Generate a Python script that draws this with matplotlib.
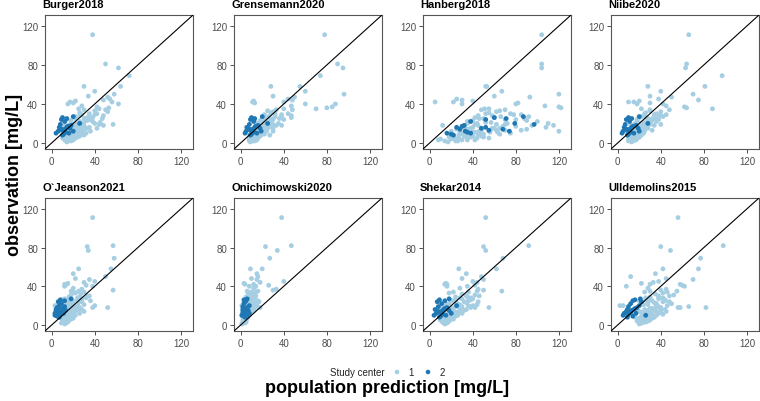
import matplotlib
matplotlib.use("Agg")
import matplotlib.pyplot as plt
import numpy as np

plt.rcParams['font.family'] = ['Liberation Sans', 'DejaVu Sans']

models = ["Burger2018", "Grensemann2020", "Hanberg2018", "Niibe2020",
          "O`Jeanson2021", "Onichimowski2020", "Shekar2014", "Ulldemolins2015"]

# observed concentrations, study center 1
obs_c1 = [111, 81, 77, 69, 58, 58, 53, 50, 48, 47, 45, 44, 43, 42, 42, 41, 40, 40, 38, 37,
          36, 35, 35, 34, 33, 32, 30, 29, 28, 27, 26, 25, 25, 24, 23, 22, 21, 20, 20, 19,
          18, 18, 18, 17, 16, 16, 15, 15, 14, 14, 13, 13, 12, 12, 11, 11, 10, 10, 9, 9,
          8, 8, 7, 7, 6, 6, 5, 5, 4, 4, 3, 3, 2, 1, 20, 12, 30, 26, 15, 8, 82,
          34, 31, 29, 27, 25, 23, 22, 21, 19, 18, 17, 16, 15, 14, 13, 12, 11, 10, 9, 8,
          7, 6, 5, 4, 3, 2, 24, 20, 17, 13, 10, 6, 28, 19, 15, 11, 9, 5, 3, 2]
# observed concentrations, study center 2
obs_c2 = [27, 26, 25, 24, 22, 20, 19, 18, 17, 16, 15, 14, 13, 12, 12, 11, 10, 10, 9, 8, 14, 16]

# population predictions per model, study center 1
pred_c1 = {
    "Burger2018": [38, 50, 62, 72, 30, 64, 40, 58, 34, 52, 54, 48, 22, 17, 56, 20, 62, 15, 28, 42,
                   53, 25, 44, 50, 40, 52, 35, 28, 48, 22, 38, 30, 47, 14, 33, 26, 45, 40, 18, 57,
                   30, 12, 48, 24, 35, 10, 20, 42, 15, 30, 8, 25, 18, 36, 12, 28, 20, 32, 15, 24,
                   10, 22, 14, 26, 18, 12, 16, 22, 14, 20, 12, 17, 15, 14, 28, 20, 42, 33, 26, 30, 140,
                   30, 26, 40, 35, 22, 18, 38, 30, 25, 15, 20, 28, 16, 22, 18, 14, 24, 16, 20, 12,
                   18, 15, 20, 18, 16, 15, 36, 22, 19, 21, 13, 24, 26, 44, 33, 19, 27, 10, 20, 18],
    "Grensemann2020": [78, 90, 95, 74, 28, 55, 60, 96, 30, 50, 44, 48, 12, 11, 40, 13, 88, 60, 47, 85,
                       80, 70, 40, 48, 25, 30, 44, 38, 47, 32, 47, 36, 22, 40, 28, 26, 20, 35, 16, 30,
                       38, 14, 33, 24, 18, 5, 22, 30, 12, 20, 9, 18, 24, 30, 14, 20, 10, 16, 12, 22,
                       8, 15, 10, 18, 12, 8, 14, 10, 8, 12, 10, 14, 11, 9, 25, 15, 32, 26, 20, 27, 140,
                       33, 28, 22, 26, 30, 18, 24, 14, 28, 22, 15, 26, 18, 12, 16, 20, 18, 14, 16, 10,
                       14, 12, 16, 10, 12, 8, 30, 22, 20, 17, 12, 16, 38, 18, 25, 16, 20, 12, 15, 13],
    "Hanberg2018": [104, 104, 104, 140, 52, 53, 67, 120, 60, 93, 25, 30, 40, 5, 22, 82, 80, 30, 107, 120,
                    122, 51, 55, 70, 65, 62, 75, 85, 45, 92, 60, 88, 50, 70, 40, 100, 57, 35, 110, 62,
                    115, 45, 12, 80, 108, 30, 58, 38, 90, 25, 48, 70, 120, 20, 42, 63, 35, 75, 28, 50,
                    22, 45, 32, 40, 18, 38, 27, 44, 25, 10, 8, 30, 14, 17, 72, 55, 52, 42, 65, 36, 150,
                    48, 55, 78, 66, 46, 90, 35, 52, 42, 95, 68, 40, 60, 36, 85, 46, 56, 30, 65, 27,
                    48, 34, 55, 20, 42, 24, 80, 44, 32, 62, 28, 50, 58, 70, 33, 40, 47, 23, 35, 26],
    "Niibe2020": [66, 64, 63, 97, 28, 81, 40, 70, 30, 50, 38, 75, 20, 10, 15, 30, 42, 18, 45, 62,
                  64, 88, 22, 48, 30, 40, 25, 45, 38, 42, 20, 32, 35, 18, 28, 36, 24, 30, 16, 40,
                  22, 12, 34, 26, 14, 20, 18, 28, 8, 22, 12, 32, 16, 25, 10, 20, 13, 24, 9, 18,
                  12, 22, 10, 15, 20, 12, 14, 18, 11, 15, 13, 17, 12, 13, 28, 14, 36, 26, 22, 18, 140,
                  30, 26, 34, 22, 28, 32, 18, 24, 26, 14, 20, 16, 24, 18, 14, 18, 22, 16, 12, 14,
                  16, 10, 12, 14, 10, 14, 38, 20, 24, 16, 18, 20, 40, 30, 16, 22, 14, 12, 16, 10],
    "O`Jeanson2021": [38, 33, 34, 58, 25, 55, 20, 50, 22, 35, 40, 30, 15, 12, 14, 32, 12, 38, 20, 28,
                      57, 25, 18, 30, 22, 27, 35, 16, 24, 28, 14, 20, 36, 10, 25, 18, 30, 12, 40, 22,
                      52, 8, 38, 15, 28, 10, 18, 24, 12, 30, 16, 20, 9, 26, 14, 18, 11, 22, 13, 19,
                      10, 16, 12, 20, 14, 18, 12, 16, 10, 14, 11, 15, 13, 12, 3, 15, 33, 10, 20, 8, 57,
                      20, 18, 26, 12, 24, 16, 20, 14, 18, 26, 12, 22, 14, 16, 20, 10, 16, 12, 18, 8,
                      15, 10, 14, 12, 10, 13, 28, 16, 20, 14, 17, 11, 32, 24, 22, 12, 15, 16, 13, 9],
    "Onichimowski2020": [38, 23, 34, 27, 9, 20, 15, 16, 10, 15, 40, 18, 3, 4, 12, 26, 8, 14, 12, 33,
                         30, 6, 16, 10, 7, 12, 14, 5, 9, 13, 4, 8, 16, 3, 10, 6, 12, 3, 15, 7,
                         18, 2, 14, 5, 10, 2, 6, 12, 4, 8, 3, 6, 2, 9, 4, 7, 3, 8, 4, 6,
                         2, 5, 3, 6, 3, 5, 2, 4, 3, 4, 2, 3, 2, 1, 1, 4, 10, 5, 6, 3, 47,
                         14, 8, 11, 6, 9, 13, 5, 10, 7, 12, 4, 9, 6, 8, 5, 6, 4, 7, 5, 4,
                         6, 3, 5, 4, 3, 2, 17, 11, 8, 6, 5, 4, 12, 9, 10, 3, 7, 3, 5, 4],
    "Shekar2014": [52, 50, 52, 68, 27, 62, 34, 48, 30, 50, 40, 44, 15, 16, 14, 42, 35, 16, 28, 45,
                   50, 67, 44, 22, 18, 30, 46, 35, 28, 40, 38, 20, 36, 45, 25, 15, 44, 40, 14, 30,
                   55, 10, 42, 22, 34, 12, 20, 32, 16, 28, 10, 25, 18, 30, 14, 24, 12, 26, 16, 22,
                   10, 20, 14, 18, 12, 20, 15, 10, 14, 18, 12, 16, 15, 14, 26, 20, 34, 24, 28, 22, 92,
                   36, 42, 24, 30, 22, 34, 18, 28, 24, 38, 20, 30, 16, 22, 26, 14, 20, 16, 24, 12,
                   18, 14, 18, 16, 12, 13, 32, 36, 20, 24, 16, 22, 38, 26, 30, 18, 20, 14, 17, 16],
    "Ulldemolins2015": [56, 40, 49, 77, 75, 42, 35, 12, 45, 70, 38, 33, 22, 30, 58, 60, 8, 62, 28, 45,
                        40, 55, 30, 25, 42, 35, 48, 30, 26, 38, 44, 20, 32, 42, 28, 36, 24, 46, 5, 66,
                        56, 82, 58, 32, 25, 40, 28, 35, 20, 45, 30, 22, 38, 26, 32, 24, 28, 36, 22, 30,
                        26, 34, 20, 28, 24, 30, 22, 26, 18, 28, 20, 24, 22, 20, 2, 14, 38, 26, 18, 16, 98,
                        46, 52, 38, 30, 44, 34, 50, 28, 36, 40, 30, 44, 34, 26, 38, 30, 42, 24, 34, 28,
                        32, 22, 30, 26, 24, 20, 48, 36, 32, 40, 28, 26, 42, 38, 35, 30, 34, 24, 26, 22],
}

# population predictions per model, study center 2
pred_c2 = {
    "Burger2018":       [20, 10, 14, 9, 12, 26, 8, 18, 15, 7, 17, 12, 10, 6, 20, 13, 4, 16, 11, 10, 9, 14],
    "Grensemann2020":   [20, 10, 13, 9, 12, 25, 8, 16, 14, 6, 18, 11, 9, 5, 19, 12, 4, 15, 10, 9, 8, 13],
    "Hanberg2018":      [87, 60, 71, 52, 38, 79, 97, 32, 30, 52, 48, 28, 55, 74, 33, 35, 38, 16, 20, 22, 68, 25],
    "Niibe2020":        [20, 10, 13, 8, 11, 28, 7, 17, 14, 6, 19, 11, 9, 5, 20, 12, 4, 15, 10, 9, 8, 13],
    "O`Jeanson2021":    [18, 8, 12, 6, 9, 7, 12, 5, 10, 4, 13, 7, 9, 3, 11, 6, 3, 8, 5, 7, 4, 6],
    "Onichimowski2020": [6, 3, 5, 4, 3, 8, 2, 6, 5, 2, 7, 4, 3, 2, 8, 4, 1, 6, 3, 4, 2, 5],
    "Shekar2014":       [18, 9, 14, 7, 11, 25, 8, 16, 14, 5, 18, 11, 9, 6, 20, 12, 4, 15, 10, 9, 8, 13],
    "Ulldemolins2015":  [21, 16, 14, 22, 12, 20, 10, 18, 16, 9, 13, 8, 12, 6, 17, 10, 26, 5, 14, 9, 11, 15],
}

center_labels = ["1", "2"]
col_light = "#A6CEE3"
col_dark = "#1F78B4"

W, H = 760, 402
fig = plt.figure(figsize=(W / 100, H / 100), dpi=100)
fig.patch.set_facecolor("white")

lefts = [45, 234, 423, 611]
rows = [(16, 150), (199, 332)]
pw = 148
lim = (-6.25, 131.25)

for i, m in enumerate(models):
    r, c = divmod(i, 4)
    top, bot = rows[r]
    ax = fig.add_axes([lefts[c] / W, (H - bot) / H, pw / W, (bot - top) / H])
    ax.scatter(pred_c1[m], obs_c1, s=12, color=col_light, edgecolors="none", zorder=2)
    ax.scatter(pred_c2[m], obs_c2, s=12, color=col_dark, edgecolors="none", zorder=3)
    ax.plot(lim, lim, color="black", lw=0.8, zorder=4)
    ax.set_xlim(lim)
    ax.set_ylim(lim)
    ax.set_xticks([0, 40, 80, 120])
    ax.set_yticks([0, 40, 80, 120])
    ax.tick_params(labelsize=7, colors="#333333", labelcolor="#4D4D4D", length=3, width=0.6, pad=2)
    for s in ax.spines.values():
        s.set_color("#555555")
        s.set_linewidth(0.8)
    ax.text(-0.02, 1.045, m, transform=ax.transAxes, ha="left", va="bottom",
            fontsize=8, fontweight="bold", color="black")

fig.text(15 / W, 1 - 175 / H, "observation [mg/L]", rotation=90, ha="center", va="center",
         fontsize=13, fontweight="bold")
fig.text(387 / W, 1 - 389 / H, "population prediction [mg/L]", ha="center", va="center",
         fontsize=13, fontweight="bold")

# legend
fig.text(357 / W, 1 - 373 / H, "Study center", ha="center", va="center", fontsize=7, color="#222222")
lax = fig.add_axes([0, 0, 1, 1], facecolor="none")
lax.set_xlim(0, W)
lax.set_ylim(H, 0)
lax.axis("off")
lax.scatter([397], [373], s=11, color=col_light, edgecolors="none")
lax.scatter([428], [373], s=11, color=col_dark, edgecolors="none")
lax.text(411, 373, center_labels[0], ha="center", va="center", fontsize=7, color="#222222")
lax.text(442, 373, center_labels[1], ha="center", va="center", fontsize=7, color="#222222")

fig.savefig("out.png", dpi=100)
